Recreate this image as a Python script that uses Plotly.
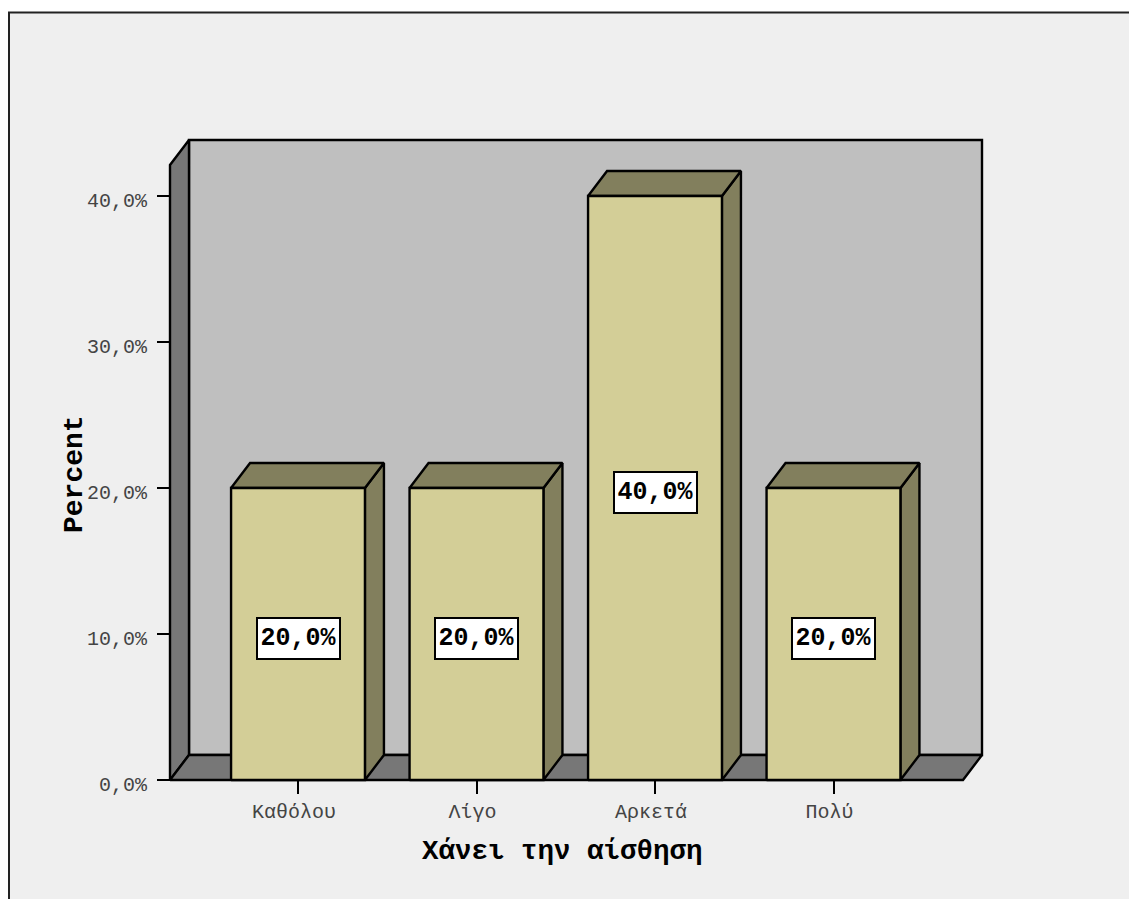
import plotly.graph_objects as go

# Frequency data
categories = ["Καθόλου", "Λίγο", "Αρκετά", "Πολύ"]
percents = [20.0, 20.0, 40.0, 20.0]
y_ticks = [0, 10, 20, 30, 40]
y_tick_labels = ["0,0%", "10,0%", "20,0%", "30,0%", "40,0%"]
x_title = "Χάνει την αίσθηση"
y_title = "Percent"

# Canvas and room box, in pixels
W, H = 1129, 899
L, R, T, B = 170, 982, 140, 780
PAD = 8  # slack around the room so its outline is not clipped
PX_PER_CAT = 178.5
PX_PER_PCT = 14.6
FIRST_CAT_PX = 298

# Room edges in axis units
x_lo = (L - FIRST_CAT_PX) / PX_PER_CAT
x_hi = (R - FIRST_CAT_PX) / PX_PER_CAT
y_hi = (B - T) / PX_PER_PCT

# Depth offset of the pseudo-3D extrusion, in axis units
DX = 19 / PX_PER_CAT
DY = 25 / PX_PER_PCT
BAR_W = 0.75
WALL_TOP = y_hi - DY
FLOOR_RIGHT = x_hi - DX

MONO = "Liberation Mono"
WALL = "#BFBFBF"
SHADE = "#777777"
FRONT = "#D3CE97"
SIDE = "#827F5D"
EDGE = 2.4


def face(xs, ys, color):
    return go.Scatter(
        x=xs + xs[:1], y=ys + ys[:1], mode="lines", fill="toself",
        fillcolor=color, line=dict(color="black", width=EDGE),
        hoverinfo="skip", showlegend=False,
    )


fig = go.Figure()

# Room: back wall, left wall, floor
fig.add_trace(face([x_lo + DX, x_hi, x_hi, x_lo + DX], [DY, DY, y_hi, y_hi], WALL))
fig.add_trace(face([x_lo, x_lo + DX, x_lo + DX, x_lo], [0, DY, y_hi, WALL_TOP], SHADE))
fig.add_trace(face([x_lo, FLOOR_RIGHT, x_hi, x_lo + DX], [0, 0, DY, DY], SHADE))

# Extruded bars
for i, v in enumerate(percents):
    x0, x1 = i - BAR_W / 2, i + BAR_W / 2
    fig.add_trace(face([x1, x1 + DX, x1 + DX, x1], [0, DY, v + DY, v], SIDE))
    fig.add_trace(face([x0, x1, x1 + DX, x0 + DX], [v, v, v + DY, v + DY], SIDE))
    fig.add_trace(face([x0, x1, x1, x0], [0, 0, v, v], FRONT))

# Value labels in white boxes
for i, v in enumerate(percents):
    fig.add_annotation(
        x=i, y=v / 2, yshift=-4, text=f"{v:.1f}%".replace(".", ","),
        showarrow=False, bgcolor="white", bordercolor="black", borderwidth=2,
        width=79, height=37, font=dict(family=MONO, size=25, color="black", weight="bold"),
    )

# Plot area in pixels, a little larger than the room
pl, pr, pt, pb = L - PAD, R + PAD, T - PAD, B + PAD


def fx(px):
    return (px - pl) / (pr - pl)


def fy(px):
    return (pb - px) / (pb - pt)


# Axis titles
fig.add_annotation(
    xref="paper", yref="paper", x=fx(562), y=fy(851), text=x_title, showarrow=False,
    xanchor="center", yanchor="middle",
    font=dict(family=MONO, size=27.5, color="black", weight="bold"),
)
fig.add_annotation(
    xref="paper", yref="paper", x=fx(74), y=fy(474), text=y_title, showarrow=False,
    xanchor="center", yanchor="middle", textangle=-90,
    font=dict(family=MONO, size=28, color="black", weight="bold"),
)

# Panel behind the chart, framed on its top and left sides
frame_shapes = [
    dict(type="rect", xref="paper", yref="paper", x0=fx(9), x1=fx(W + 5), y0=fy(H + 5), y1=fy(12.5),
         fillcolor="#EFEFEF", line=dict(width=0), layer="below"),
    dict(type="path", xref="paper", yref="paper", layer="below",
         path=f"M {fx(9)} {fy(H + 5)} L {fx(9)} {fy(12.5)} L {fx(W + 5)} {fy(12.5)}",
         line=dict(color="#222222", width=2)),
]

fig.update_layout(
    width=W, height=H,
    margin=dict(l=pl, r=W - pr, t=pt, b=H - pb, pad=0),
    paper_bgcolor="white", plot_bgcolor="rgba(0,0,0,0)",
    shapes=frame_shapes, showlegend=False,
    xaxis=dict(
        range=[x_lo - PAD / PX_PER_CAT, x_hi + PAD / PX_PER_CAT],
        anchor="free", position=fy(B),
        tickmode="array", tickvals=list(range(len(categories))),
        ticktext=categories, ticks="outside", ticklen=13, tickwidth=2.4, tickcolor="black",
        showgrid=False, zeroline=False, showline=False, ticklabelstandoff=0, ticklabelshift=-4,
        tickfont=dict(family=MONO, size=20, color="#444444"),
    ),
    yaxis=dict(
        range=[-PAD / PX_PER_PCT, y_hi + PAD / PX_PER_PCT],
        anchor="free", position=fx(L),
        tickmode="array", tickvals=y_ticks, ticktext=y_tick_labels,
        ticks="outside", ticklen=13, tickwidth=2.4, tickcolor="black",
        showgrid=False, zeroline=False, showline=False, ticklabelstandoff=6, ticklabelshift=4,
        tickfont=dict(family=MONO, size=20, color="#444444"),
    ),
)

fig.write_html("out.html")
